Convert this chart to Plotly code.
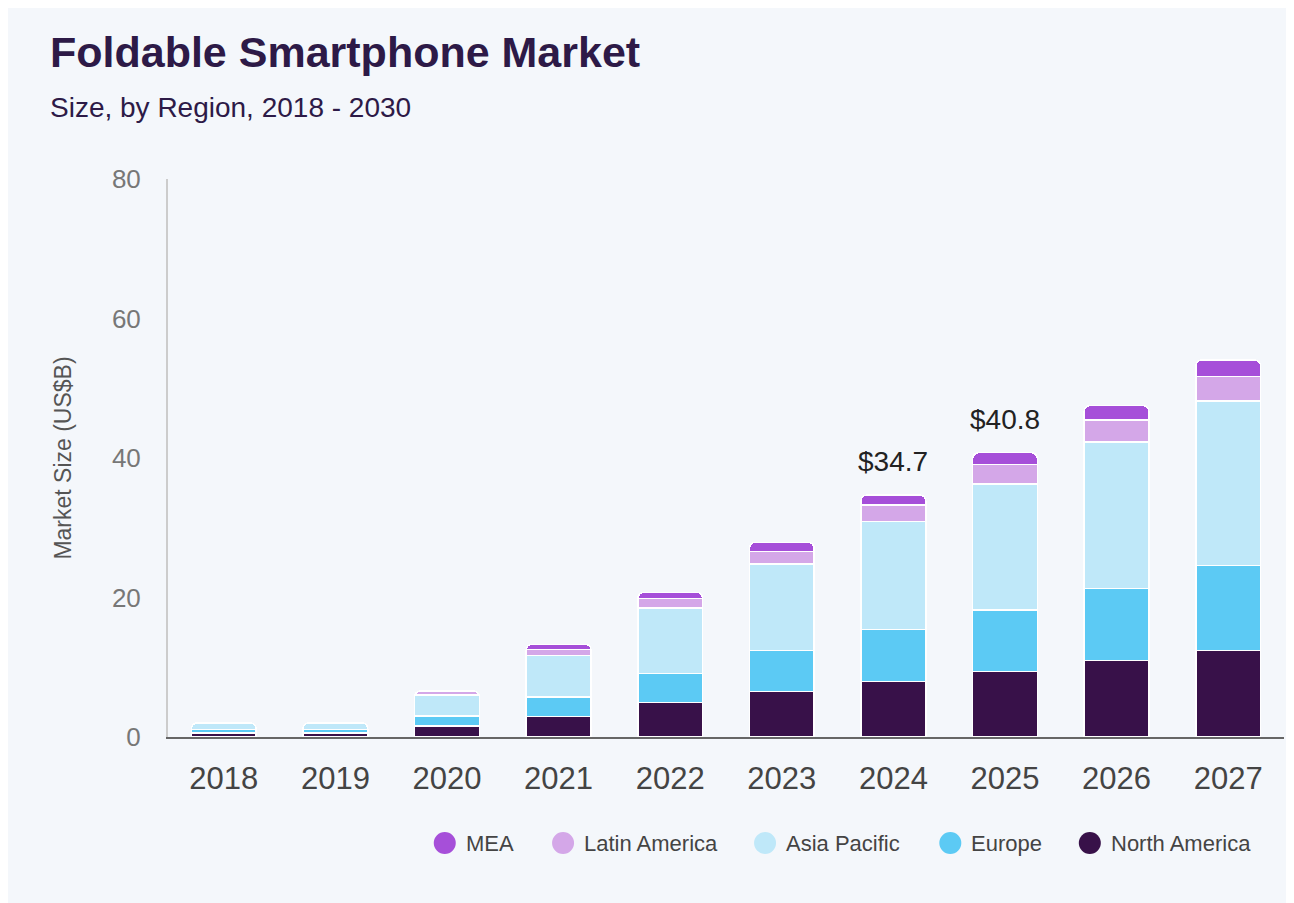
import plotly.graph_objects as go

years = ["2018", "2019", "2020", "2021", "2022", "2023", "2024", "2025", "2026", "2027"]

north_america = [0.60, 0.60, 1.58, 2.92, 4.92, 6.50, 7.93, 9.36, 10.94, 12.38]
europe = [0.50, 0.50, 1.43, 2.81, 4.16, 5.87, 7.51, 8.84, 10.38, 12.18]
asia_pacific = [0.85, 0.85, 3.00, 5.93, 9.42, 12.43, 15.43, 18.07, 21.00, 23.61]
latin_america = [0.05, 0.05, 0.50, 0.91, 1.33, 1.82, 2.39, 2.83, 3.10, 3.49]
mea = [0.02, 0.02, 0.10, 0.72, 0.91, 1.28, 1.44, 1.66, 2.10, 2.39]

label_years = ["2024", "2025"]
label_text = ["$34.7", "$40.8"]

series = [
    ("North America", north_america, "#381149"),
    ("Europe", europe, "#5ccaf4"),
    ("Asia Pacific", asia_pacific, "#bfe8f9"),
    ("Latin America", latin_america, "#d4a7e8"),
    ("MEA", mea, "#a64fd9"),
]

fig = go.Figure()
for name, vals, col in series:
    fig.add_trace(go.Bar(
        x=years, y=vals, name=name,
        marker=dict(color=col, line=dict(color="white", width=1.5)),
        showlegend=False, hoverinfo="skip",
    ))

totals = [round(a + b + c + d + e, 1) for a, b, c, d, e in
          zip(north_america, europe, asia_pacific, latin_america, mea)]
for yr, txt in zip(label_years, label_text):
    i = years.index(yr)
    # category index, so the year string is not read as a number
    fig.add_annotation(x=i, y=totals[i], text=txt, showarrow=False,
                       yshift=33, font=dict(size=28, color="#222222"))

# legend drawn by hand so the markers are round and large
legend_x = [0.248, 0.354, 0.535, 0.701, 0.826]   # paper x of each dot
legend_y = -0.19
for (name, vals, col), lx in zip(reversed(series), legend_x):
    fig.add_shape(type="circle", xref="paper", yref="paper",
                  xsizemode="pixel", ysizemode="pixel",
                  xanchor=lx, yanchor=legend_y,
                  x0=-11, x1=11, y0=-11, y1=11,
                  fillcolor=col, line=dict(width=0))
    fig.add_annotation(text=name, xref="paper", yref="paper",
                       x=lx, xshift=19, xanchor="left", y=legend_y, yanchor="middle",
                       showarrow=False, font=dict(size=22, color="#444444"))

fig.add_annotation(
    text="<b>Foldable Smartphone Market</b>", xref="paper", yref="paper",
    x=-0.1075, xanchor="left", y=1.2276, yanchor="middle",
    showarrow=False, font=dict(size=43, color="#2d1a47"),
)
fig.add_annotation(
    text="Size, by Region, 2018 - 2030", xref="paper", yref="paper",
    x=-0.1075, xanchor="left", y=1.129, yanchor="middle",
    showarrow=False, font=dict(size=28, color="#2d1a47"),
)

fig.update_layout(
    barmode="stack",
    bargap=0.42,
    barcornerradius=6,
    width=1294, height=903,
    margin=dict(l=160, r=18, t=171, b=174),
    paper_bgcolor="#f4f7fb",
    plot_bgcolor="#f4f7fb",
    font=dict(family="Liberation Sans, Arial, sans-serif", color="#444444"),
    showlegend=False,
    xaxis=dict(
        type="category", range=[-0.5, len(years) - 0.5],
        showline=True, linecolor="#666666", linewidth=2,
        showgrid=False, ticks="", ticklabelstandoff=13,
        tickfont=dict(size=31, color="#444444"),
        fixedrange=True,
    ),
    yaxis=dict(
        range=[0, 80], tickvals=[0, 20, 40, 60, 80],
        showline=True, linecolor="#cccccc", linewidth=2,
        showgrid=False, zeroline=False, ticks="", ticklabelstandoff=20,
        tickfont=dict(size=26, color="#777777"),
        title=dict(text="Market Size (US$B)", font=dict(size=23, color="#555555"), standoff=34),
    ),
)

fig.write_html("out.html")
